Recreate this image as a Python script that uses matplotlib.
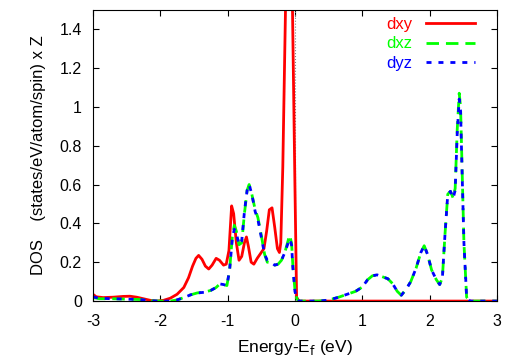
import numpy as np
import matplotlib.pyplot as plt

plt.rcParams['font.family'] = ['Liberation Sans', 'DejaVu Sans']
plt.rcParams['axes.unicode_minus'] = False

# dxy (red)
e_xy = [-3.0, -2.95, -2.85, -2.7, -2.55, -2.45, -2.35, -2.25, -2.15, -2.05,
        -1.95, -1.85, -1.75, -1.65, -1.58, -1.52, -1.47, -1.43, -1.38, -1.33,
        -1.28, -1.23, -1.17, -1.12, -1.06, -1.02, -0.98, -0.94, -0.91, -0.87,
        -0.83, -0.79, -0.75, -0.72, -0.69, -0.65, -0.61, -0.56, -0.5, -0.46,
        -0.42, -0.38, -0.34, -0.3, -0.26, -0.23, -0.21, -0.18, -0.14, -0.1,
        -0.07, -0.04, 0.0, 0.025, 0.06, 0.5, 3.0]
dos_xy = [0.035, 0.022, 0.018, 0.02, 0.024, 0.025, 0.02, 0.012, 0.004, 0.0,
          0.004, 0.015, 0.035, 0.07, 0.12, 0.18, 0.22, 0.235, 0.215, 0.18,
          0.165, 0.185, 0.22, 0.21, 0.185, 0.19, 0.26, 0.49, 0.45, 0.3,
          0.21, 0.23, 0.3, 0.33, 0.28, 0.2, 0.19, 0.22, 0.25, 0.27,
          0.36, 0.47, 0.48, 0.38, 0.27, 0.25, 0.3, 0.69, 1.5, 2.3,
          2.5, 1.6, 0.6, 0.02, 0.0, 0.0, 0.0]

# dxz (green)
e_xz = [-3.0, -2.9, -2.7, -2.5, -2.3, -2.15, -2.0, -1.85, -1.75, -1.65,
        -1.55, -1.45, -1.35, -1.25, -1.17, -1.11, -1.06, -1.01, -0.97, -0.93,
        -0.9, -0.87, -0.83, -0.79, -0.75, -0.71, -0.68, -0.64, -0.59, -0.55,
        -0.5, -0.45, -0.41, -0.36, -0.3, -0.25, -0.2, -0.15, -0.11, -0.08,
        -0.05, -0.03, 0.0, 0.03, 0.06, 0.35, 0.5, 0.65, 0.8, 0.9,
        1.0, 1.08, 1.15, 1.22, 1.3, 1.38, 1.45, 1.52, 1.58, 1.65,
        1.72, 1.8, 1.87, 1.92, 1.97, 2.03, 2.1, 2.15, 2.19, 2.23,
        2.27, 2.31, 2.35, 2.38, 2.41, 2.44, 2.46, 2.48, 2.51, 2.55,
        2.6, 3.0]
dos_xz = [0.018, 0.012, 0.012, 0.01, 0.008, 0.002, 0.0, 0.0, 0.006, 0.018,
          0.032, 0.042, 0.045, 0.055, 0.07, 0.09, 0.085, 0.08, 0.16, 0.33,
          0.39, 0.36, 0.29, 0.3, 0.45, 0.57, 0.6, 0.55, 0.47, 0.43,
          0.34, 0.24, 0.2, 0.2, 0.185, 0.19, 0.21, 0.25, 0.3, 0.34,
          0.3, 0.18, 0.06, 0.01, 0.0, 0.0, 0.005, 0.02, 0.038, 0.05,
          0.072, 0.11, 0.13, 0.135, 0.125, 0.115, 0.09, 0.05, 0.03, 0.06,
          0.1, 0.17, 0.25, 0.285, 0.24, 0.16, 0.11, 0.085, 0.12, 0.35,
          0.55, 0.565, 0.53, 0.58, 0.88, 1.07, 1.0, 0.72, 0.3, 0.02,
          0.0, 0.0]

# dyz (blue)
e_yz = e_xz
dos_yz = [0.022, 0.014, 0.012, 0.01, 0.008, 0.002, 0.0, 0.0, 0.006, 0.018,
          0.032, 0.042, 0.045, 0.055, 0.07, 0.088, 0.085, 0.08, 0.16, 0.32,
          0.37, 0.35, 0.29, 0.31, 0.46, 0.57, 0.6, 0.55, 0.46, 0.42,
          0.33, 0.24, 0.21, 0.2, 0.185, 0.19, 0.21, 0.25, 0.29, 0.32,
          0.29, 0.17, 0.05, 0.01, 0.0, 0.0, 0.005, 0.02, 0.038, 0.05,
          0.072, 0.11, 0.13, 0.135, 0.125, 0.115, 0.09, 0.05, 0.03, 0.06,
          0.1, 0.17, 0.25, 0.285, 0.24, 0.16, 0.11, 0.085, 0.12, 0.35,
          0.55, 0.565, 0.53, 0.57, 0.86, 1.04, 0.98, 0.7, 0.3, 0.02,
          0.0, 0.0]

fig = plt.figure(figsize=(5.05, 3.58), dpi=100)
ax = fig.add_axes([0.184, 0.159, 0.8, 0.814])

ax.axvline(0, color='gray', lw=0.8, ls=':')
ax.plot(e_xy, dos_xy, color='#ff0000', lw=2.0, label='dxy')
ax.plot(e_xz, dos_xz, color='#00ff00', lw=2.0, dashes=(4.5, 2.5), label='dxz')
ax.plot(e_yz, dos_yz, color='#0000ff', lw=2.0, dashes=(1.8, 2.5), label='dyz')

ax.set_xlim(-3, 3)
ax.set_ylim(0, 1.5)
ax.set_xticks(np.arange(-3, 4, 1))
ax.set_yticks([0, 0.2, 0.4, 0.6, 0.8, 1.0, 1.2, 1.4])
ax.set_yticklabels(['0', '0.2', '0.4', '0.6', '0.8', '1', '1.2', '1.4'])
ax.tick_params(direction='in', top=True, right=True, length=4, labelsize=11.5)
ax.tick_params(axis='x', pad=9)
ax.tick_params(axis='y', pad=8)

ax.set_xlabel('Energy-E$_\\mathrm{f}$ (eV)', fontsize=12.5, labelpad=7)
ax.set_ylabel('DOS    (states/eV/atom/spin) x Z', fontsize=12, labelpad=10)

ax.legend(loc='upper right', bbox_to_anchor=(0.946, 0.975), frameon=False,
          markerfirst=False, labelcolor='linecolor', handlelength=2.95,
          fontsize=12, borderaxespad=0, borderpad=0, labelspacing=0.27,
          handletextpad=0.8)

fig.savefig('out.png', dpi=100)
